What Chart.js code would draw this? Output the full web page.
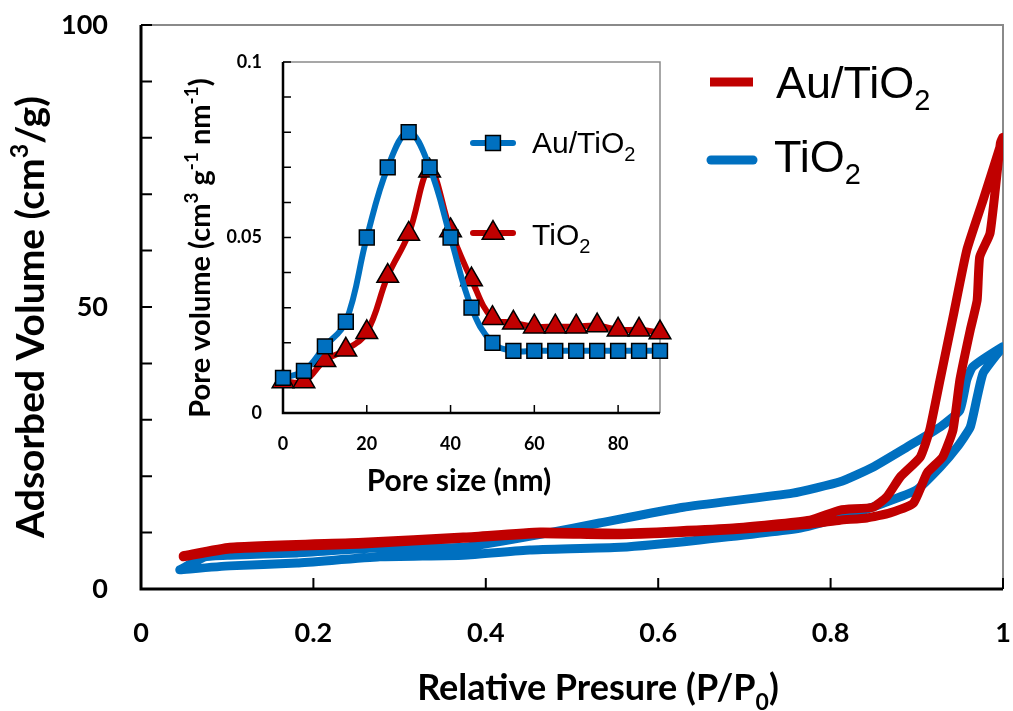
<!DOCTYPE html>
<html>
<head>
<meta charset="utf-8">
<title>Au/TiO2 isotherms</title>
<script src="https://cdn.jsdelivr.net/npm/chart.js@4.4.1/dist/chart.umd.min.js"></script>
<style>
  html, body { margin: 0; background: #fff; }
  #wrap { position: relative; width: 1013px; height: 711px; }
  #main { position: absolute; left: 0; top: 0; }
  #inset { position: absolute; left: 170px; top: 45px; }
</style>
</head>
<body>
<div id="wrap">
  <canvas id="main" width="1013" height="711"></canvas>
  <canvas id="inset" width="510" height="455"></canvas>
</div>
<script>
// N2 isotherms, adsorption branch then desorption branch (P/P0, cm3/g)
const auAdsP = [0.049, 0.103, 0.258, 0.374, 0.463, 0.556, 0.687, 0.776, 0.811, 0.842, 0.869, 0.896, 0.912, 0.930, 0.942, 0.950, 0.962, 0.970, 0.973, 0.985, 0.997];
const auAdsV = [5.7, 7.1, 8.0, 9.0, 9.8, 9.6, 10.5, 11.5, 12.2, 12.6, 13.5, 15.2, 20.6, 23.4, 28.2, 37.1, 45.9, 51.2, 58.9, 63.1, 79.1];
const auDesP = [1.000, 0.977, 0.958, 0.942, 0.927, 0.915, 0.904, 0.881, 0.865, 0.849, 0.811, 0.776, 0.687, 0.556, 0.463, 0.374, 0.258, 0.103, 0.049];
const auDesV = [80.1, 69.0, 60.1, 48.2, 37.1, 28.2, 23.4, 19.9, 16.3, 14.5, 14.0, 12.2, 10.8, 9.9, 10.1, 9.2, 8.3, 7.4, 5.9];

const tiAdsP = [0.045, 0.103, 0.181, 0.277, 0.374, 0.451, 0.556, 0.648, 0.765, 0.817, 0.861, 0.900, 0.927, 0.947, 0.962, 0.970, 0.977, 0.997];
const tiAdsV = [3.4, 4.1, 4.6, 5.7, 6.0, 6.9, 7.4, 8.7, 10.8, 12.9, 15.2, 17.6, 21.6, 25.2, 28.7, 34.0, 38.3, 42.4];
const tiDesP = [0.999, 0.965, 0.958, 0.950, 0.927, 0.889, 0.849, 0.811, 0.756, 0.629, 0.532, 0.471, 0.374, 0.277, 0.181, 0.103, 0.074, 0.045];
const tiDesV = [42.9, 39.4, 37.1, 31.7, 28.7, 25.2, 21.6, 19.0, 17.0, 14.5, 11.7, 9.9, 7.4, 7.3, 6.4, 6.0, 5.7, 3.4];

// pore size distribution (inset)
const poreSize = [0, 5, 10, 15, 20, 25, 30, 35, 40, 45, 50, 55, 60, 65, 70, 75, 80, 85, 90];
const auPore = [0.010, 0.012, 0.019, 0.026, 0.050, 0.070, 0.080, 0.070, 0.050, 0.030, 0.020, 0.0177, 0.0177, 0.0177, 0.0177, 0.0177, 0.0177, 0.0177, 0.0177];
const tiPore = [0.009, 0.009, 0.015, 0.018, 0.023, 0.039, 0.051, 0.069, 0.052, 0.038, 0.027, 0.0257, 0.0246, 0.0246, 0.0246, 0.0249, 0.0237, 0.0237, 0.0229];

const RED = '#c00000';
const BLUE = '#0070c0';
const LABEL_FONT = 'Lato, "DejaVu Sans", sans-serif';
const LEGEND_FONT = '"Liberation Sans", Arial, sans-serif';

function toPoints(xs, ys) {
    return xs.map((x, i) => ({ x: x, y: ys[i] }));
}

// text with super/subscript pieces: [['TiO', 0], ['2', -1]]
function drawRich(ctx, parts, x, y, o) {
    const small = Math.round(o.size * 0.65);
    const font = s => `${o.weight || 'normal'} ${s ? small : o.size}px ${o.family}`;
    ctx.save();
    ctx.translate(x, y);
    if (o.rotate) ctx.rotate(-Math.PI / 2);
    let w = 0;
    for (const [t, s] of parts) { ctx.font = font(s); w += ctx.measureText(t).width; }
    let cx = o.align === 'center' ? -w / 2 : 0;
    ctx.fillStyle = '#000';
    ctx.textBaseline = 'alphabetic';
    for (const [t, s] of parts) {
        ctx.font = font(s);
        const dy = s > 0 ? -o.size * 0.4 : s < 0 ? o.size * 0.27 : 0;
        ctx.fillText(t, cx, dy);
        cx += ctx.measureText(t).width;
    }
    ctx.restore();
}

// axis box: black left/bottom axes, grey top/right, tick marks pointing inside
const frame = {
    id: 'frame',
    beforeDatasetsDraw(chart, args, o) {
        const { ctx, chartArea: a } = chart;
        const xs = chart.scales.x, ys = chart.scales.y;
        ctx.save();
        ctx.strokeStyle = '#8a8a8a';
        ctx.lineWidth = o.thin;
        ctx.beginPath();
        ctx.moveTo(a.left, a.top); ctx.lineTo(a.right, a.top); ctx.lineTo(a.right, a.bottom);
        ctx.stroke();
        ctx.strokeStyle = '#000';
        ctx.lineWidth = o.tick;
        ctx.beginPath();
        for (let i = 1; ys.min + i * o.yStep <= ys.max + 1e-9; i++) {
            const py = ys.getPixelForValue(ys.min + i * o.yStep);
            ctx.moveTo(a.left, py); ctx.lineTo(a.left + o.len, py);
        }
        for (let i = 1; xs.min + i * o.xStep <= xs.max + 1e-9; i++) {
            const px = xs.getPixelForValue(xs.min + i * o.xStep);
            ctx.moveTo(px, a.bottom); ctx.lineTo(px, a.bottom - o.len);
        }
        ctx.stroke();
        ctx.lineWidth = o.axis;
        ctx.beginPath();
        ctx.moveTo(a.left, a.top); ctx.lineTo(a.left, a.bottom); ctx.lineTo(a.right, a.bottom);
        ctx.stroke();
        ctx.restore();
    }
};

function tickFont(size) {
    return { family: LABEL_FONT, size: size, weight: 'bold' };
}

// fixed axis sizes so the plot box lands where the layout padding says
function fixX(h) {
    return s => { s.height = h; s.paddingLeft = 0; s.paddingRight = 0; };
}
function fixY(w) {
    return s => { s.width = w; s.paddingTop = 0; s.paddingBottom = 0; };
}

// main isotherm chart
const mainText = {
    id: 'mainText',
    afterDraw(chart) {
        const ctx = chart.ctx;
        drawRich(ctx, [['Adsorbed Volume (cm', 0], ['3', 1], ['/g)', 0]], 44, 317,
            { size: 39, weight: 'bold', family: LABEL_FONT, align: 'center', rotate: true });
        drawRich(ctx, [['Relative Presure (P/P', 0], ['0', -1], [')', 0]], 598, 700,
            { size: 36, weight: 'bold', family: LABEL_FONT, align: 'center' });

        ctx.save();
        ctx.lineWidth = 9;
        ctx.strokeStyle = RED;
        ctx.lineCap = 'butt';
        ctx.beginPath(); ctx.moveTo(710, 82); ctx.lineTo(753, 82); ctx.stroke();
        ctx.strokeStyle = BLUE;
        ctx.lineCap = 'round';
        ctx.beginPath(); ctx.moveTo(711, 160); ctx.lineTo(753, 160); ctx.stroke();
        ctx.restore();
        const leg = { size: 45, family: LEGEND_FONT };
        drawRich(ctx, [['Au/TiO', 0], ['2', -1]], 776, 98, leg);
        drawRich(ctx, [['TiO', 0], ['2', -1]], 774, 172, leg);
    }
};

new Chart(document.getElementById('main'), {
    type: 'scatter',
    data: {
        datasets: [{
            label: 'Au/TiO2',
            data: toPoints(auAdsP.concat(auDesP), auAdsV.concat(auDesV)),
            showLine: true,
            borderColor: RED,
            borderWidth: 9,
            tension: 0.15,
            pointRadius: 0
        }, {
            label: 'TiO2',
            data: toPoints(tiAdsP.concat(tiDesP), tiAdsV.concat(tiDesV)),
            showLine: true,
            borderColor: BLUE,
            borderWidth: 9,
            tension: 0.15,
            pointRadius: 0
        }]
    },
    options: {
        responsive: false,
        animation: false,
        events: [],
        layout: { padding: { top: 25, right: 10, left: 0, bottom: 0 } },
        datasets: { scatter: { borderCapStyle: 'round', borderJoinStyle: 'round' } },
        scales: {
            x: {
                type: 'linear', min: 0, max: 1,
                border: { display: false },
                grid: { display: false, drawTicks: false },
                ticks: { stepSize: 0.2, padding: 28, maxRotation: 0, autoSkip: false, color: '#000', font: tickFont(27),
                    callback: v => +v.toFixed(1) },
                afterFit: fixX(122)
            },
            y: {
                min: 0, max: 100,
                border: { display: false },
                grid: { display: false, drawTicks: false },
                ticks: { stepSize: 50, padding: 33, color: '#000', font: tickFont(27) },
                afterFit: fixY(141)
            }
        },
        plugins: {
            legend: { display: false },
            tooltip: { enabled: false },
            frame: { thin: 2, thick: 3, axis: 3, tick: 2, len: 11, xStep: 0.2, yStep: 10 }
        }
    },
    plugins: [frame, mainText]
});

// inset: pore size distribution
const insetText = {
    id: 'insetText',
    afterDraw(chart) {
        const ctx = chart.ctx;
        drawRich(ctx, [['Pore volume (cm', 0], ['3', 1], [' g', 0], ['-1', 1], [' nm', 0], ['-1', 1], [')', 0]], 40, 203,
            { size: 29, weight: 'bold', family: LABEL_FONT, align: 'center', rotate: true });
        drawRich(ctx, [['Pore size (nm)', 0]], 289, 446,
            { size: 30, weight: 'bold', family: LABEL_FONT, align: 'center' });

        const sets = chart.data.datasets;
        const rows = [[sets[0], 98, 108, 'Au/TiO'], [sets[1], 188, 200, 'TiO']];
        for (const [ds, ly, by, txt] of rows) {
            ctx.save();
            ctx.strokeStyle = ds.borderColor;
            ctx.lineWidth = 6;
            ctx.lineCap = 'round';
            ctx.beginPath(); ctx.moveTo(303, ly); ctx.lineTo(343, ly); ctx.stroke();
            ctx.fillStyle = ds.pointBackgroundColor;
            ctx.strokeStyle = '#000';
            ctx.lineWidth = 1.5;
            Chart.helpers.drawPoint(ctx, { pointStyle: ds.pointStyle, radius: ds.pointRadius, borderWidth: 1.5 }, 323, ly);
            ctx.restore();
            drawRich(ctx, [[txt, 0], ['2', -1]], 362, by, { size: 30, family: LEGEND_FONT });
        }
    }
};

new Chart(document.getElementById('inset'), {
    type: 'line',
    data: {
        datasets: [{
            label: 'Au/TiO2',
            data: toPoints(poreSize, auPore),
            borderColor: BLUE,
            borderWidth: 6,
            tension: 0.4,
            pointStyle: 'rect',
            pointRadius: 10.5,
            pointBackgroundColor: BLUE,
            pointBorderColor: '#000',
            pointBorderWidth: 1.5
        }, {
            label: 'TiO2',
            data: toPoints(poreSize, tiPore),
            borderColor: RED,
            borderWidth: 6,
            tension: 0.4,
            pointStyle: 'triangle',
            pointRadius: 12.5,
            pointBackgroundColor: RED,
            pointBorderColor: '#000',
            pointBorderWidth: 1.5
        }]
    },
    options: {
        responsive: false,
        animation: false,
        events: [],
        clip: false,
        layout: { padding: { top: 17, right: 20, left: 0, bottom: 0 } },
        scales: {
            x: {
                type: 'linear', min: 0, max: 90,
                border: { display: false },
                grid: { display: false, drawTicks: false },
                ticks: { stepSize: 20, includeBounds: false, padding: 20, maxRotation: 0, autoSkip: false, color: '#000', font: tickFont(18) },
                afterFit: fixX(87)
            },
            y: {
                min: 0, max: 0.1,
                border: { display: false },
                grid: { display: false, drawTicks: false },
                ticks: { stepSize: 0.05, padding: 21, color: '#000', font: tickFont(18),
                    callback: v => +v.toFixed(2) },
                afterFit: fixY(113)
            }
        },
        plugins: {
            legend: { display: false },
            tooltip: { enabled: false },
            frame: { thin: 1.5, thick: 2.5, axis: 2.5, tick: 1.5, len: 8, xStep: 20, yStep: 0.01 }
        }
    },
    plugins: [frame, insetText]
});
</script>
</body>
</html>
